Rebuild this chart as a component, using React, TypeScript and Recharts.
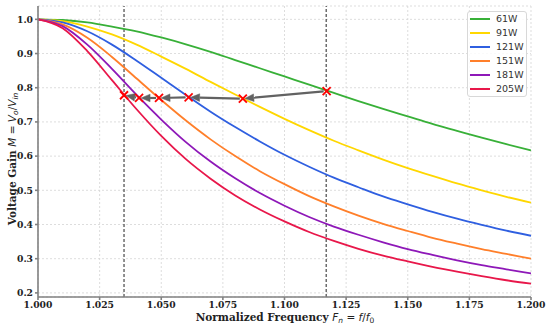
import * as React from 'react';
import { ComposedChart, Line, Scatter, XAxis, YAxis, CartesianGrid, ReferenceLine } from 'recharts';

// normalized frequency samples
const freq = [1.00, 1.01, 1.02, 1.03, 1.04, 1.05, 1.06, 1.07, 1.08, 1.09, 1.10,
  1.11, 1.12, 1.13, 1.14, 1.15, 1.16, 1.17, 1.18, 1.19, 1.20];

// voltage gain
const gain61W = [1.000, 0.998, 0.991, 0.979, 0.965, 0.947, 0.927, 0.905, 0.881, 0.857, 0.833,
  0.809, 0.785, 0.761, 0.738, 0.716, 0.694, 0.674, 0.654, 0.635, 0.617];
const gain91W = [1.000, 0.995, 0.979, 0.956, 0.926, 0.891, 0.855, 0.817, 0.780, 0.744, 0.709,
  0.676, 0.645, 0.617, 0.590, 0.565, 0.542, 0.520, 0.500, 0.481, 0.464];
const gain121W = [1.000, 0.991, 0.965, 0.926, 0.879, 0.829, 0.779, 0.730, 0.685, 0.643, 0.604,
  0.569, 0.537, 0.509, 0.482, 0.459, 0.437, 0.417, 0.399, 0.382, 0.367];
const gain151W = [1.000, 0.985, 0.946, 0.890, 0.827, 0.764, 0.704, 0.649, 0.600, 0.556, 0.518,
  0.483, 0.453, 0.426, 0.402, 0.381, 0.361, 0.344, 0.328, 0.314, 0.300];
const gain181W = [1.000, 0.980, 0.926, 0.855, 0.779, 0.707, 0.641, 0.584, 0.535, 0.492, 0.455,
  0.422, 0.394, 0.370, 0.348, 0.328, 0.311, 0.295, 0.281, 0.269, 0.257];
const gain205W = [1.000, 0.974, 0.907, 0.822, 0.737, 0.659, 0.591, 0.534, 0.485, 0.444, 0.409,
  0.378, 0.352, 0.329, 0.309, 0.292, 0.276, 0.262, 0.249, 0.237, 0.227];

const seriesNames = ['61W', '91W', '121W', '151W', '181W', '205W'];
const seriesGains = [gain61W, gain91W, gain121W, gain151W, gain181W, gain205W];
const seriesColors = ['#38b038', '#ffd700', '#2f5fe0', '#ff7f2a', '#8e18b8', '#e8174a'];

// operating points (red x), arrows go from one to the next
const markerFreq = [1.1171, 1.0831, 1.0611, 1.0491, 1.0410, 1.0349];
const markerGain = [0.790, 0.768, 0.772, 0.770, 0.770, 0.778];

const dashedFreq = [1.0349, 1.1169];

const xTicks = [1.000, 1.025, 1.050, 1.075, 1.100, 1.125, 1.150, 1.175, 1.200];
const yTicks = [0.2, 0.3, 0.4, 0.5, 0.6, 0.7, 0.8, 0.9, 1.0];

const data = freq.map((f, i) => {
  const row: any = { f };
  seriesNames.forEach((n, j) => { row[n] = seriesGains[j][i]; });
  return row;
});

const markers = markerFreq.map((f, i) => ({ f, m: markerGain[i] }));

const serif = '"DejaVu Serif", serif';
const sans = '"DejaVu Sans", sans-serif';
const tickStyle = { fontFamily: serif, fontWeight: 'bold', fontSize: 9.2, fill: '#222' };

const Arrow = (props: any) => {
  const { x1, y1, x2, y2 } = props;
  const dx = x2 - x1;
  const dy = y2 - y1;
  const len = Math.sqrt(dx * dx + dy * dy);
  const ux = dx / len;
  const uy = dy / len;
  const sx = x1 + ux * 3;
  const sy = y1 + uy * 3;
  const tx = x2 - ux * 2;
  const ty = y2 - uy * 2;
  const hl = 9;
  const hw = 3.8;
  const bx = tx - ux * hl;
  const by = ty - uy * hl;
  const pts = `${tx},${ty} ${bx - uy * hw},${by + ux * hw} ${bx + uy * hw},${by - ux * hw}`;
  return (
    <g>
      <line x1={sx} y1={sy} x2={bx} y2={by} stroke="#626262" strokeWidth={2.2} />
      <polygon points={pts} fill="#626262" stroke="#626262" strokeWidth={0.5} />
    </g>
  );
};

const Cross = (props: any) => {
  const { cx, cy } = props;
  const r = 4;
  return (
    <g>
      <line x1={cx - r} y1={cy - r} x2={cx + r} y2={cy + r} stroke="#ff0000" strokeWidth={1.8} />
      <line x1={cx - r} y1={cy + r} x2={cx + r} y2={cy - r} stroke="#ff0000" strokeWidth={1.8} />
    </g>
  );
};

export default function App() {
  return (
    <div style={{ position: 'absolute', left: 0, top: 0, width: 550, height: 328, background: '#fff' }}>
      <ComposedChart width={550} height={328} data={data} margin={{ top: 6, right: 19, bottom: 0, left: 0 }}>
        <CartesianGrid stroke="#d4d4d4" strokeDasharray="2 2" strokeWidth={0.8} />
        <XAxis
          type="number"
          dataKey="f"
          domain={[1.0, 1.2]}
          ticks={xTicks}
          tickFormatter={(v) => v.toFixed(3)}
          height={31}
          tickSize={3}
          tickMargin={1}
          stroke="#808080"
          strokeWidth={1.6}
          tick={tickStyle}
          allowDataOverflow
        />
        <YAxis
          type="number"
          domain={[0.188, 1.039]}
          ticks={yTicks}
          tickFormatter={(v) => v.toFixed(1)}
          width={38}
          tickSize={3}
          tickMargin={2}
          stroke="#808080"
          strokeWidth={1.6}
          tick={tickStyle}
          allowDataOverflow
        />
        {dashedFreq.map((x) => (
          <ReferenceLine key={x} x={x} stroke="#222" strokeWidth={1} strokeDasharray="3 2" />
        ))}
        {seriesNames.map((n, j) => (
          <Line
            key={n}
            type="monotone"
            dataKey={n}
            stroke={seriesColors[j]}
            strokeWidth={1.8}
            dot={false}
            isAnimationActive={false}
          />
        ))}
        {markers.slice(0, -1).map((p, i) => (
          <ReferenceLine
            key={'a' + i}
            segment={[{ x: p.f, y: p.m }, { x: markers[i + 1].f, y: markers[i + 1].m }]}
            shape={Arrow}
          />
        ))}
        <Scatter data={markers} dataKey="m" shape={Cross} isAnimationActive={false} />
      </ComposedChart>

      <svg width={550} height={328} style={{ position: 'absolute', left: 0, top: 0, pointerEvents: 'none' }}>
        <text x={285} y={321} textAnchor="middle" fontSize={10.5} fill="#222">
          <tspan fontFamily={serif} fontWeight="bold">Normalized Frequency </tspan>
          <tspan fontFamily={sans} fontStyle="italic">F</tspan>
          <tspan fontFamily={sans} fontStyle="italic" fontSize={7.5} dy={2}>n</tspan>
          <tspan fontFamily={sans} dy={-2}> = </tspan>
          <tspan fontFamily={sans} fontStyle="italic">f</tspan>
          <tspan fontFamily={sans}>/</tspan>
          <tspan fontFamily={sans} fontStyle="italic">f</tspan>
          <tspan fontFamily={sans} fontSize={7.5} dy={2}>0</tspan>
        </text>
        <text transform="translate(16,159) rotate(-90)" textAnchor="middle" fontSize={10.5} fill="#222">
          <tspan fontFamily={serif} fontWeight="bold">Voltage Gain </tspan>
          <tspan fontFamily={sans} fontStyle="italic">M</tspan>
          <tspan fontFamily={sans}> = </tspan>
          <tspan fontFamily={sans} fontStyle="italic">V</tspan>
          <tspan fontFamily={sans} fontStyle="italic" fontSize={7.5} dy={2}>o</tspan>
          <tspan fontFamily={sans} dy={-2}>/</tspan>
          <tspan fontFamily={sans} fontStyle="italic">V</tspan>
          <tspan fontFamily={sans} fontStyle="italic" fontSize={7.5} dy={2}>in</tspan>
        </text>
      </svg>

      <div
        style={{
          position: 'absolute',
          left: 467,
          top: 11,
          width: 60,
          height: 86,
          boxSizing: 'border-box',
          border: '1px solid #d8d8d8',
          borderRadius: 3,
          background: 'rgba(255,255,255,0.85)',
          fontFamily: sans,
          fontSize: 9.5,
          color: '#333',
        }}
      >
        {seriesNames.map((n, j) => (
          <div key={n} style={{ position: 'relative', height: 14, lineHeight: '14px' }}>
            <div style={{ position: 'absolute', left: 2, top: 6, width: 20, height: 2, background: seriesColors[j] }} />
            <span style={{ position: 'absolute', left: 28 }}>{n}</span>
          </div>
        ))}
      </div>
    </div>
  );
}
